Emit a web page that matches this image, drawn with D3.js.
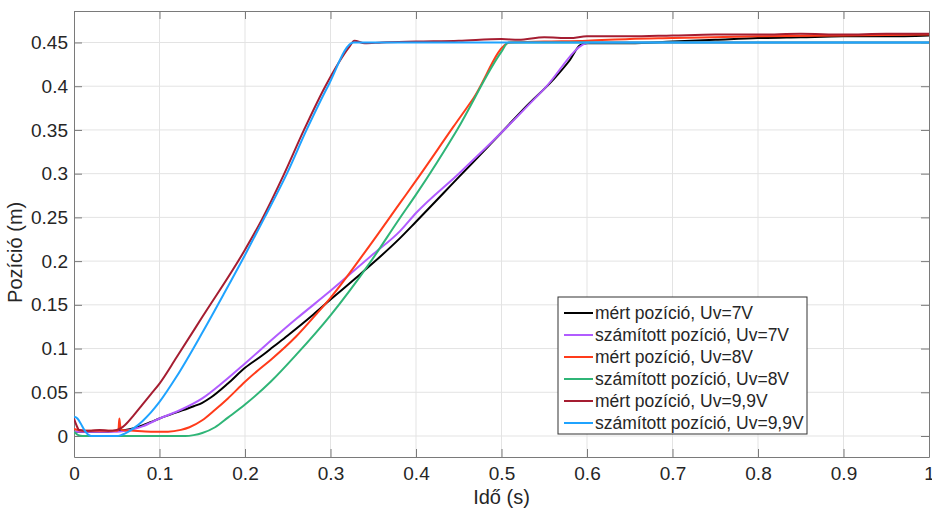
<!DOCTYPE html>
<html>
<head>
<meta charset="utf-8">
<script src="https://cdn.jsdelivr.net/npm/d3@7"></script>
<style>
body { margin: 0; background: #fff; }
svg text { font-family: "Liberation Sans", Arial, sans-serif; fill: #262626; }
</style>
</head>
<body>
<div id="chart-area"></div>
<script>
// tick values
var xTicks = [0, 0.1, 0.2, 0.3, 0.4, 0.5, 0.6, 0.7, 0.8, 0.9, 1];
var yTicks = [0, 0.05, 0.1, 0.15, 0.2, 0.25, 0.3, 0.35, 0.4, 0.45];

// series names (legend order)
var seriesNames = [
	"mért pozíció, Uv=7V",
	"számított pozíció, Uv=7V",
	"mért pozíció, Uv=8V",
	"számított pozíció, Uv=8V",
	"mért pozíció, Uv=9,9V",
	"számított pozíció, Uv=9,9V"
];
var seriesColors = ["#000000", "#b15cff", "#ff3b1a", "#2fb577", "#a51d31", "#1fa3ff"];

// [time (s), position (m)]
var mert7 = [[0,0.005],[0.02,0.005],[0.04,0.005],[0.05,0.006],[0.06,0.007],[0.07,0.009],[0.08,0.012],
	[0.09,0.016],[0.1,0.020],[0.12,0.027],[0.14,0.034],[0.15,0.038],[0.16,0.044],[0.18,0.060],
	[0.2,0.078],[0.22,0.092],[0.233,0.102],[0.25,0.115],[0.28,0.139],[0.3,0.156],[0.33,0.181],
	[0.35,0.198],[0.381,0.226],[0.4,0.245],[0.45,0.296],[0.5,0.347],[0.53,0.378],[0.56,0.407],
	[0.58,0.430],[0.592,0.447],[0.6,0.449],[0.65,0.449],[0.7,0.451],[0.75,0.453],[0.8,0.455],
	[0.85,0.456],[0.9,0.457],[0.95,0.457],[1,0.458]];
var szamitott7 = [[0,0.005],[0.05,0.005],[0.06,0.006],[0.07,0.008],[0.08,0.011],[0.1,0.020],
	[0.125,0.030],[0.15,0.043],[0.175,0.062],[0.2,0.083],[0.229,0.108],[0.26,0.134],[0.3,0.166],
	[0.35,0.208],[0.381,0.234],[0.4,0.255],[0.45,0.300],[0.5,0.347],[0.55,0.397],[0.6035,0.45],[1,0.45]];
var mert8 = [[0,0.008],[0.01,0.006],[0.03,0.006],[0.05,0.006],[0.052,0.007],[0.053,0.020],[0.054,0.012],
	[0.056,0.007],[0.07,0.006],[0.09,0.005],[0.11,0.005],[0.125,0.007],[0.135,0.010],[0.15,0.018],
	[0.165,0.030],[0.18,0.043],[0.2,0.062],[0.215,0.075],[0.23,0.087],[0.26,0.114],[0.284,0.140],
	[0.3,0.158],[0.346,0.218],[0.381,0.266],[0.4,0.292],[0.444,0.354],[0.467,0.386],[0.51,0.450],
	[0.55,0.451],[0.6,0.452],[0.65,0.454],[0.7,0.455],[0.8,0.457],[0.9,0.458],[1,0.459]];
var szamitott8 = [[0,0.005],[0.005,0.001],[0.01,0],[0.13,0],[0.14,0.001],[0.15,0.0034],[0.165,0.010],
	[0.18,0.021],[0.2,0.036],[0.23,0.062],[0.26,0.093],[0.3,0.138],[0.346,0.198],[0.381,0.249],
	[0.4,0.276],[0.448,0.350],[0.5,0.4395],[0.508,0.45],[1,0.45]];
var mert99 = [[0,0.020],[0.003,0.012],[0.006,0.007],[0.02,0.006],[0.03,0.007],[0.04,0.006],[0.05,0.007],
	[0.055,0.009],[0.06,0.013],[0.07,0.024],[0.08,0.036],[0.09,0.048],[0.1,0.060],[0.12,0.090],
	[0.15,0.136],[0.2,0.213],[0.22,0.248],[0.245,0.298],[0.269,0.350],[0.294,0.400],[0.322,0.445],
	[0.328,0.452],[0.34,0.449],[0.36,0.450],[0.4,0.451],[0.45,0.452],[0.5,0.454],[0.52,0.453],
	[0.55,0.456],[0.58,0.455],[0.6,0.457],[0.65,0.457],[0.7,0.458],[0.75,0.459],[0.8,0.459],
	[0.85,0.460],[0.9,0.459],[0.95,0.460],[1,0.460]];
var szamitott99 = [[0,0.022],[0.004,0.020],[0.008,0.014],[0.012,0.007],[0.016,0.002],[0.02,0],[0.05,0],
	[0.06,0.003],[0.07,0.009],[0.08,0.017],[0.09,0.027],[0.1,0.039],[0.12,0.068],[0.15,0.118],
	[0.175,0.162],[0.2,0.207],[0.223,0.250],[0.249,0.300],[0.272,0.350],[0.297,0.400],[0.327,0.45],[1,0.45]];

var allSeries = [mert7, szamitott7, mert8, szamitott8, mert99, szamitott99];

var margin = { left: 74, right: 3, top: 11, bottom: 56 };
var width = 932 - margin.left - margin.right;
var height = 513 - margin.top - margin.bottom;

var svg = d3.select("#chart-area")
	.append("svg")
	.attr("width", 932)
	.attr("height", 513);

var g = svg.append("g")
	.attr("transform", "translate(" + margin.left + "," + margin.top + ")");

// Scales
var x = d3.scaleLinear().domain([0, 1]).range([0, width]);
var y = d3.scaleLinear().domain([-0.024, 0.486]).range([height, 0]);

// grid
g.append("g").selectAll("line").data(xTicks.slice(1, -1)).enter().append("line")
	.attr("x1", function(d){ return x(d); })
	.attr("x2", function(d){ return x(d); })
	.attr("y1", 0).attr("y2", height)
	.attr("stroke", "#e3e3e3").attr("stroke-width", 1);
g.append("g").selectAll("line").data(yTicks).enter().append("line")
	.attr("y1", function(d){ return y(d); })
	.attr("y2", function(d){ return y(d); })
	.attr("x1", 0).attr("x2", width)
	.attr("stroke", "#e3e3e3").attr("stroke-width", 1);

// axes, ticks pointing inward (box style)
var fmt = function(d){ return d3.format("")(+d.toFixed(2)); };

var xAxisGroup = g.append("g").attr("class", "x-axis")
	.attr("transform", "translate(0," + height + ")")
	.call(d3.axisBottom(x).tickValues(xTicks).tickFormat(fmt).tickSizeInner(-8).tickSizeOuter(0).tickPadding(10));
var xTopGroup = g.append("g")
	.call(d3.axisTop(x).tickValues(xTicks).tickFormat("").tickSizeInner(-8).tickSizeOuter(0));
var yAxisGroup = g.append("g").attr("class", "y-axis")
	.call(d3.axisLeft(y).tickValues(yTicks).tickFormat(fmt).tickSizeInner(-8).tickSizeOuter(0).tickPadding(6));
var yRightGroup = g.append("g")
	.attr("transform", "translate(" + width + ",0)")
	.call(d3.axisRight(y).tickValues(yTicks).tickFormat("").tickSizeInner(-8).tickSizeOuter(0));

[xAxisGroup, xTopGroup, yAxisGroup, yRightGroup].forEach(function(a){
	a.select(".domain").attr("stroke", "#7a7a7a");
	a.selectAll(".tick line").attr("stroke", "#7a7a7a");
	a.selectAll("text").attr("font-size", 19).attr("fill", "#262626")
		.attr("font-family", "'Liberation Sans', Arial, sans-serif");
});

// axis labels
g.append("text")
	.attr("x", width / 2)
	.attr("y", height + 47)
	.attr("text-anchor", "middle")
	.attr("font-size", 20)
	.text("Idő (s)");

g.append("text")
	.attr("x", -y(0.21))
	.attr("y", -52)
	.attr("transform", "rotate(-90)")
	.attr("text-anchor", "middle")
	.attr("font-size", 20)
	.text("Pozíció (m)");

// lines
var line = d3.line()
	.curve(d3.curveMonotoneX)
	.x(function(d){ return x(d[0]); })
	.y(function(d){ return y(d[1]); });

svg.append("clipPath").attr("id", "plotclip")
	.append("rect").attr("width", width).attr("height", height);

var linesG = g.append("g").attr("clip-path", "url(#plotclip)");
allSeries.forEach(function(s, i){
	linesG.append("path")
		.datum(s)
		.attr("d", line)
		.attr("fill", "none")
		.attr("stroke", seriesColors[i])
		.attr("stroke-width", 2)
		.attr("stroke-linejoin", "round");
});

// legend
var legendRowHeight = 22;
var legend = g.append("g")
	.attr("transform", "translate(" + (558 - margin.left) + "," + (297 - margin.top) + ")");

legend.append("rect")
	.attr("width", 249)
	.attr("height", 137)
	.attr("fill", "#fff")
	.attr("stroke", "#333")
	.attr("stroke-width", 1);

seriesNames.forEach(function(name, i){
	var legendRow = legend.append("g")
		.attr("transform", "translate(0," + (16 + i * legendRowHeight) + ")");

	legendRow.append("line")
		.attr("x1", 6).attr("x2", 35)
		.attr("stroke", seriesColors[i])
		.attr("stroke-width", 2);

	legendRow.append("text")
		.attr("x", 37)
		.attr("y", 6)
		.attr("font-size", 17.5)
		.text(name);
});
</script>
</body>
</html>
